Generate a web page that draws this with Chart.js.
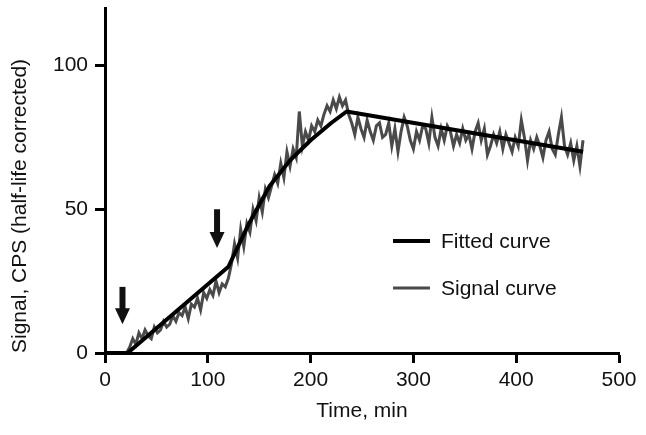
<!DOCTYPE html>
<html>
<head>
<meta charset="utf-8">
<script src="https://cdn.jsdelivr.net/npm/chart.js@4.4.1/dist/chart.umd.min.js"></script>
<style>
  html, body { margin: 0; padding: 0; background: #fff; }
  #wrap { width: 646px; height: 435px; }
</style>
</head>
<body>
<div id="wrap"><canvas id="chart" width="646" height="435"></canvas></div>
<script>
// fitted model, piecewise
const fittedTimes = [0, 22, 120, 140, 160, 180, 200, 220, 235, 465];
const fittedValues = [0, 0, 30, 45, 58, 67, 74, 80, 84, 70];

// measured signal, one reading about every 3 min
const signalTimes = [
  0, 3, 6, 9, 12, 15, 18, 21, 24, 27, 30, 33, 36, 39, 42, 45, 48, 51, 54, 57,
  60, 63, 66, 69, 72, 75, 78, 81, 84, 87, 90, 93, 96, 99, 102, 105, 108, 111, 114, 117,
  120, 123, 126, 129, 132, 135, 138, 141, 144, 147, 150, 153, 156, 159, 162, 165, 168, 171, 174, 177,
  180, 183, 186, 189, 192, 195, 198, 201, 204, 207, 210, 213, 216, 219, 222, 225, 228, 231, 234, 237,
  240, 243, 246, 249, 252, 255, 258, 261, 264, 267, 270, 273, 276, 279, 282, 285, 288, 291, 294, 297,
  300, 303, 306, 309, 312, 315, 318, 321, 324, 327, 330, 333, 336, 339, 342, 345, 348, 351, 354, 357,
  360, 363, 366, 369, 372, 375, 378, 381, 384, 387, 390, 393, 396, 399, 402, 405, 408, 411, 414, 417,
  420, 423, 426, 429, 432, 435, 438, 441, 444, 447, 450, 453, 456, 459, 462, 465
];
const signalValues = [
  0, 0, 0, 0, 0, 0, 0, 0, 2, 5, 3, 7, 5, 8, 6, 5, 9, 7, 8, 11,
  9, 10, 13, 11, 14, 13, 16, 12, 17, 16, 19, 15, 21, 19, 22, 20, 25, 21, 24, 23,
  26, 31, 38, 33, 43, 37, 45, 42, 50, 46, 54, 49, 57, 54, 58, 62, 59, 66, 61, 70,
  65, 71, 68, 84, 72, 77, 74, 79, 77, 81, 79, 83, 86, 84, 88, 85, 89, 86, 88, 83,
  80, 76, 82, 78, 75, 81, 77, 74, 79, 80, 75, 76, 80, 72, 78, 70, 77, 82, 79, 74,
  71, 77, 74, 79, 78, 73, 82, 75, 72, 78, 74, 79, 77, 72, 76, 73, 78, 74, 76, 71,
  77, 80, 74, 78, 69, 72, 76, 73, 77, 71, 76, 73, 70, 75, 72, 81, 75, 67, 74, 71,
  75, 72, 68, 74, 77, 71, 69, 76, 82, 72, 69, 73, 67, 72, 65, 74, 71, 73
];

// injection markers (time, top of shaft, tip)
const arrowTimes = [17, 109];
const arrowTops = [23, 50];
const arrowTips = [10, 36.5];

const xTicks = [0, 100, 200, 300, 400, 500];
const yTicks = [0, 50, 100];

const seriesNames = ["Fitted curve", "Signal curve"];
const seriesColors = ["#000000", "#4a4a4a"];
const seriesWidths = [4, 3];

const fontFamily = "'Liberation Sans', Arial, Helvetica, sans-serif";

const arrowsPlugin = {
  id: "arrows",
  afterDatasetsDraw(chart) {
    const { ctx, scales: { x, y } } = chart;
    ctx.save();
    ctx.fillStyle = "#111";
    ctx.strokeStyle = "#111";
    arrowTimes.forEach((t, i) => {
      const px = x.getPixelForValue(t);
      const top = y.getPixelForValue(arrowTops[i]);
      const tip = y.getPixelForValue(arrowTips[i]);
      const headH = 16;
      ctx.lineWidth = 6;
      ctx.beginPath();
      ctx.moveTo(px, top);
      ctx.lineTo(px, tip - headH + 2);
      ctx.stroke();
      ctx.beginPath();
      ctx.moveTo(px - 7.5, tip - headH);
      ctx.lineTo(px + 7.5, tip - headH);
      ctx.lineTo(px, tip);
      ctx.closePath();
      ctx.fill();
    });
    ctx.restore();
  }
};

const legendPlugin = {
  id: "lineLegend",
  afterDraw(chart) {
    const { ctx } = chart;
    const rows = [241, 288];
    ctx.save();
    ctx.font = "21px " + fontFamily;
    ctx.textBaseline = "middle";
    ctx.fillStyle = "#111";
    seriesNames.forEach((name, i) => {
      ctx.strokeStyle = seriesColors[i];
      ctx.lineWidth = seriesWidths[i];
      ctx.beginPath();
      ctx.moveTo(393, rows[i]);
      ctx.lineTo(430, rows[i]);
      ctx.stroke();
      ctx.fillText(name, 441, rows[i] + 1);
    });
    ctx.restore();
  }
};

const axisStyle = {
  border: { display: true, color: "#000", width: 3 },
  grid: { display: true, drawOnChartArea: false, drawTicks: true, tickLength: 10, tickWidth: 3, tickColor: "#000" }
};

new Chart(document.getElementById("chart"), {
  type: "line",
  data: {
    datasets: [
      {
        label: seriesNames[0],
        data: fittedTimes.map((t, i) => ({ x: t, y: fittedValues[i] })),
        borderColor: seriesColors[0],
        borderWidth: seriesWidths[0],
        pointRadius: 0,
        tension: 0,
        borderJoinStyle: "round"
      },
      {
        label: seriesNames[1],
        data: signalTimes.map((t, i) => ({ x: t, y: signalValues[i] })),
        borderColor: seriesColors[1],
        borderWidth: seriesWidths[1],
        pointRadius: 0,
        tension: 0
      }
    ]
  },
  options: {
    responsive: false,
    animation: false,
    devicePixelRatio: 1,
    layout: { padding: { top: 8, right: 27, left: 0, bottom: 0 } },
    plugins: { legend: { display: false }, tooltip: { enabled: false } },
    scales: {
      x: {
        type: "linear",
        min: 0,
        max: 500,
        ...axisStyle,
        afterBuildTicks: (s) => { s.ticks = xTicks.map((v) => ({ value: v })); },
        afterFit: (s) => { s.height = 82; s.paddingLeft = 0; s.paddingRight = 0; },
        ticks: { color: "#111", padding: 5, font: { family: fontFamily, size: 21 } },
        title: {
          display: true,
          text: "Time, min",
          color: "#111",
          padding: { bottom: 11 },
          font: { family: fontFamily, size: 21 }
        }
      },
      y: {
        type: "linear",
        min: 0,
        max: 120,
        ...axisStyle,
        afterBuildTicks: (s) => { s.ticks = yTicks.map((v) => ({ value: v })); },
        afterFit: (s) => { s.width = 105; s.paddingTop = 0; s.paddingBottom = 0; },
        ticks: { color: "#111", padding: 7, font: { family: fontFamily, size: 21 } },
        title: {
          display: true,
          text: "Signal, CPS (half-life corrected)",
          align: "start",
          color: "#111",
          padding: { top: 8 },
          font: { family: fontFamily, size: 21 }
        }
      }
    }
  },
  plugins: [arrowsPlugin, legendPlugin]
});
</script>
</body>
</html>
